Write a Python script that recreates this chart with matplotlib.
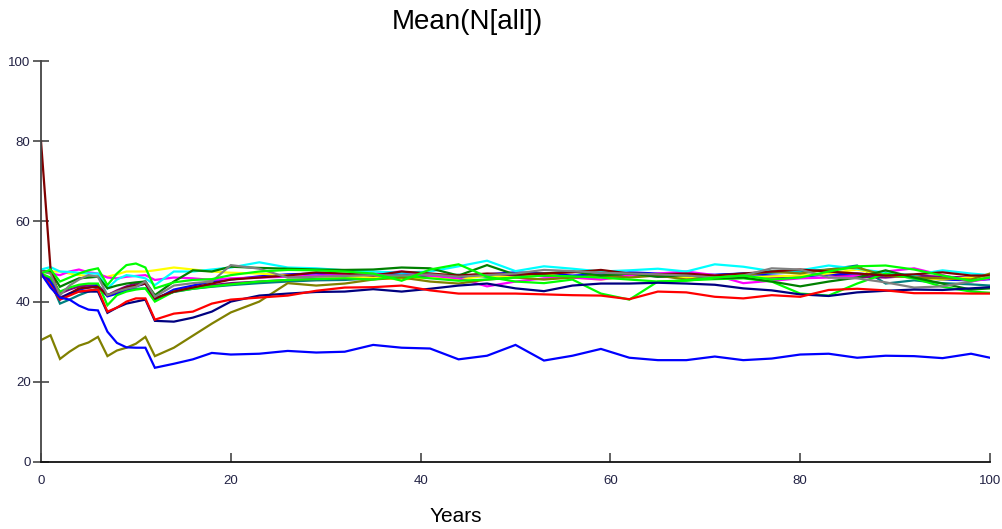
import matplotlib
matplotlib.use("Agg")
import matplotlib.pyplot as plt

# sample years shared by every run
years = [0, 1, 2, 3, 4, 5, 6, 7, 8, 9, 10, 11, 12, 14, 16, 18, 20, 23, 26, 29, 32,
         35, 38, 41, 44, 47, 50, 53, 56, 59, 62, 65, 68, 71, 74, 77, 80, 83, 86, 89,
         92, 95, 98, 100]

run_blue_low = [47, 43.5, 41, 40.5, 39, 38, 37.8, 32.5, 29.7, 28.6, 28.5, 28.5, 23.5, 24.5,
                25.6, 27.2, 26.8, 27, 27.7, 27.3, 27.5, 29.2, 28.5, 28.3, 25.6, 26.5, 29.2,
                25.3, 26.5, 28.2, 26, 25.4, 25.4, 26.3, 25.4, 25.8, 26.8, 27, 26, 26.5,
                26.4, 25.9, 27, 26]
run_olive = [30.4, 31.6, 25.7, 27.5, 29, 29.8, 31.2, 26.4, 27.8, 28.5, 29.5, 31.2, 26.4, 28.5,
             31.5, 34.5, 37.3, 40, 44.6, 44, 44.5, 45.5, 46, 45, 44.5, 45.5, 46, 45.5, 46,
             46.5, 46, 46.5, 45.5, 46, 46.5, 47.5, 47, 48, 48.5, 46.5, 46, 45.8, 45.5, 47]
run_darkred = [80, 48.3, 40.8, 42, 43.3, 43.5, 43.7, 41.6, 42.5, 43.5, 44, 44.5, 40.8, 42.5,
               43.5, 44.5, 45.5, 46, 46.5, 47.3, 47, 46.5, 47.5, 47, 46.5, 47, 46.8, 47,
               47.3, 47.9, 47, 46.8, 47, 46.5, 47, 47.5, 48, 47.5, 47, 46.5, 46.8, 47.3,
               46.5, 46.5]
run_red = [47, 44, 40.5, 41.5, 42.5, 42.8, 43, 37.5, 38.5, 40, 40.8, 40.8, 35.5, 37, 37.5,
           39.5, 40.5, 41, 41.5, 42.7, 43.5, 43.6, 44, 42.8, 42, 42, 42, 41.8, 41.6, 41.5,
           40.6, 42.5, 42.3, 41.2, 40.8, 41.6, 41.2, 42.9, 43.2, 42.8, 42.1, 42.1, 42, 42]
run_navy = [47, 44, 40.5, 42, 42.5, 42.5, 42.5, 37.2, 38.5, 39.5, 40, 40.5, 35.2, 35, 36,
            37.5, 40, 41.5, 42, 42.4, 42.5, 43.1, 42.5, 43.2, 44, 44.5, 43.3, 42.6, 44,
            44.5, 44.5, 44.7, 44.5, 44.2, 43.3, 42.8, 41.8, 41.4, 42.3, 42.7, 43, 42.9,
            43.3, 43.6]
run_cyan = [48, 48.6, 47.5, 47.4, 47.2, 47, 47, 43.3, 45.5, 46.6, 46.3, 45.8, 44.1, 47.5,
            47.5, 48, 48.5, 49.8, 48.5, 48.3, 47.8, 47.5, 47.2, 47.5, 48.8, 50.2, 47.6,
            48.8, 48.2, 47.5, 47.8, 48.2, 47.5, 49.3, 48.7, 47.6, 47.8, 49, 48.2, 47.2,
            46.6, 47.8, 47, 46.6]
run_yellow = [47.5, 47.5, 47.5, 47, 46.6, 46.4, 46.3, 46.2, 46.8, 47.5, 47.5, 47.5, 47.8,
              48.5, 48, 47.5, 47.2, 47, 46.5, 46.2, 46.2, 46, 45.5, 46, 45.5, 46.5, 46,
              46.8, 46, 45.5, 46.3, 46.5, 46, 46.5, 46, 46.3, 46.5, 47, 48, 46.5, 46, 45.5,
              46, 46.2]
run_magenta = [48, 47, 46.6, 47.5, 48, 47.3, 47, 46, 45.8, 46.2, 46.4, 46.6, 45.4, 46, 45.8,
               45.4, 45.8, 46, 46.2, 46.5, 46.6, 47, 47.5, 46.5, 45.8, 43.8, 45, 45.8, 46,
               45.5, 46.5, 47, 47.5, 46.6, 44.6, 45.2, 45.8, 46, 46.4, 47.5, 48.3, 46.6,
               45, 45.8]
run_lime_a = [47, 48, 45, 46, 47, 47.8, 48.3, 44.1, 47, 49.1, 49.5, 48.5, 43.3, 44.8, 45.4,
              45.6, 46.6, 47.5, 47.9, 47.8, 47.5, 47, 45.2, 48, 49.3, 46.2, 45, 44.6, 45.5,
              42, 40.5, 45, 45.2, 46, 46.5, 45.5, 46, 47.5, 48.8, 49, 48, 46.5, 45.2, 46]
run_lime_b = [47, 46, 42.5, 43.5, 44.2, 44.5, 44.5, 39.1, 41.6, 42.5, 43, 43.3, 40, 42.5,
              43.2, 43.8, 44.3, 45, 45.4, 45.6, 45.8, 45.5, 46.5, 45.8, 45.2, 45.5, 46,
              46.5, 46.3, 46, 45.5, 45, 45.3, 45.6, 45.8, 45, 42, 41.5, 44.5, 47, 45.8,
              43.7, 42.5, 42.2]
run_green = [47.5, 47.5, 43.7, 44.8, 45.8, 46, 46.2, 43.3, 44, 44.5, 44.8, 45, 41.6, 45,
             47.8, 47.5, 48.7, 48.4, 48.2, 48, 47.9, 48, 48.5, 48.3, 46.5, 49.1, 46.7, 47,
             47.5, 46.5, 47, 46.2, 46.6, 45.8, 46, 45, 43.8, 45, 46, 47.8, 46, 44.5, 43,
             43.3]
run_gray = [47.5, 47, 41.6, 44, 45.5, 46.6, 46.2, 41.6, 42.5, 43.2, 43.7, 45, 41.2, 44,
            44.6, 45, 49.1, 48.2, 46, 46.2, 46.4, 46.6, 46.5, 46.8, 46.2, 46.6, 47, 47.9,
            47.6, 47.2, 47, 46.8, 46.5, 46, 46.5, 48.3, 48, 46, 45.8, 44.8, 43.5, 43.8,
            45, 46.2]
run_purple = [47, 45.5, 42, 43, 43.8, 44, 44.1, 41.6, 42.8, 43.8, 44.5, 45, 40.8, 42.5,
              43.5, 44.1, 44.6, 45, 45.4, 45.6, 45.8, 46, 46.2, 46.5, 46.3, 46.8, 46.5,
              46.5, 46.2, 46.6, 46.8, 46.3, 46, 46.6, 46.3, 46, 46.4, 46.8, 46.2, 46, 46.5,
              46.2, 46, 46.4]
run_teal = [47, 45, 39.5, 40.5, 41.6, 42.5, 43.3, 41.6, 42.2, 42.8, 43.2, 43.3, 40.8, 42.4,
            43.2, 43.7, 44.1, 44.6, 45, 45.3, 45.4, 45.8, 46, 46.4, 46.7, 46.2, 46.8, 46.5,
            46.2, 46.5, 46.7, 46.3, 46.5, 46.6, 47, 47.2, 47.5, 48, 49, 44.5, 45.3, 44.6,
            44.3, 44]
run_blue = [47, 45, 41, 42, 43, 43.5, 44, 41.3, 42, 43, 43.8, 44.5, 40.5, 43, 44, 45, 45.5,
            46.3, 46.8, 47, 46.5, 46.8, 47, 46.5, 46, 46.8, 47.3, 47, 46.5, 46.8, 47.3, 47,
            46.8, 46.7, 47, 46.5, 46.2, 46.8, 47, 46.5, 46, 45.5, 45.3, 45.6]

runs = [
    (run_teal, "#008080"),
    (run_purple, "#800080"),
    (run_blue, "#0000FF"),
    (run_yellow, "#FFFF00"),
    (run_magenta, "#FF00FF"),
    (run_cyan, "#00FFFF"),
    (run_olive, "#808000"),
    (run_lime_b, "#00FF00"),
    (run_green, "#008000"),
    (run_darkred, "#800000"),
    (run_gray, "#808080"),
    (run_lime_a, "#00FF00"),
    (run_navy, "#000080"),
    (run_red, "#FF0000"),
    (run_blue_low, "#0000FF"),
]

plt.rcParams["font.family"] = ["Liberation Sans", "DejaVu Sans"]

fig = plt.figure(figsize=(10.03, 5.29), dpi=100)
ax = fig.add_axes([41 / 1003, 67 / 529, 949 / 1003, 401 / 529])

for vals, col in runs:
    ax.plot(years, vals, color=col, lw=1.6, solid_joinstyle="miter")

ax.set_xlim(0, 100)
ax.set_ylim(0, 100)
ax.set_xticks([0, 20, 40, 60, 80, 100])
ax.set_yticks([0, 20, 40, 60, 80, 100])

for s in ["top", "right"]:
    ax.spines[s].set_visible(False)
ax.spines["left"].set_color("#444444")
ax.spines["bottom"].set_color("#111111")
ax.spines["left"].set_linewidth(1.3)
ax.spines["bottom"].set_linewidth(1.3)

ax.tick_params(axis="y", direction="inout", length=12, width=1.3, color="#555555",
               labelsize=9.5, labelcolor="#222244", pad=1.5)
ax.tick_params(axis="x", direction="in", length=6.5, width=1.3, color="#555555",
               labelsize=9.5, labelcolor="#222244", pad=9)

fig.text(467 / 1003, 1 - 22 / 529, "Mean(N[all])", ha="center", va="center", fontsize=20)
fig.text(456 / 1003, 1 - 516 / 529, "Years", ha="center", va="center", fontsize=15)

fig.savefig("out.png", dpi=100)
